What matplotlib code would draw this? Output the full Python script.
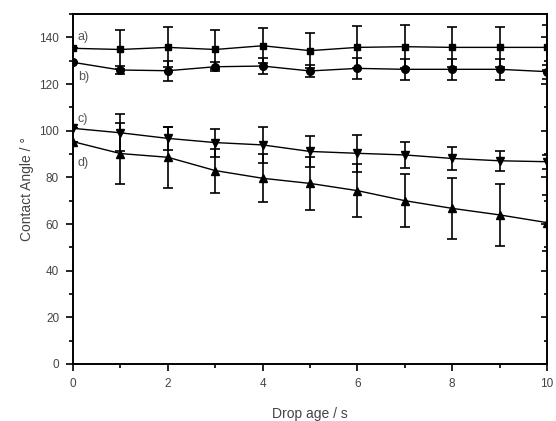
import numpy as np
import matplotlib
matplotlib.use("Agg")
import matplotlib.pyplot as plt
from matplotlib.ticker import MultipleLocator

plt.rcParams['font.family'] = ['Liberation Sans', 'DejaVu Sans']

# drop age in seconds
t = [0, 1, 2, 3, 4, 5, 6, 7, 8, 9, 10]

# a) squares
a_val = [135.3, 134.8, 135.7, 134.8, 136.4, 134.3, 135.7, 136.0, 135.7, 135.7, 135.7]
a_err = [0, 8.4, 8.6, 8.4, 7.5, 7.4, 9.0, 9.3, 8.6, 8.6, 9.5]
# b) circles
b_val = [129.3, 126.0, 125.7, 127.4, 127.7, 125.6, 126.7, 126.3, 126.3, 126.3, 125.3]
b_err = [0, 1.8, 4.3, 2.0, 3.4, 2.7, 4.5, 4.5, 4.5, 4.5, 3.0]
# c) down triangles
c_val = [101.0, 99.1, 96.7, 94.9, 93.9, 91.1, 90.3, 89.6, 88.1, 87.1, 86.7]
c_err = [0, 8.0, 5.0, 6.0, 7.8, 6.5, 8.0, 5.7, 5.0, 4.2, 3.0]
# d) up triangles
d_val = [95.3, 90.2, 88.6, 82.9, 79.6, 77.4, 74.3, 70.0, 66.7, 63.9, 60.6]
d_err = [0, 12.9, 13.0, 9.4, 10.3, 11.4, 11.4, 11.4, 13.0, 13.4, 12.0]

series = [(a_val, a_err, 's', 5), (b_val, b_err, 'o', 5.5), (c_val, c_err, 'v', 6), (d_val, d_err, '^', 6)]
labels = ['a)', 'b)', 'c)', 'd)']
label_y = [140, 123, 105, 86]

fig = plt.figure(figsize=(5.56, 4.21), dpi=100)
ax = fig.add_axes([0.1313, 0.1354, 0.8525, 0.8313])

for vals, errs, m, ms in series:
    ax.errorbar(t, vals, yerr=errs, color='black', marker=m, markersize=ms,
                linewidth=1.0, elinewidth=1.2, capsize=3.5, capthick=1.2,
                zorder=3)

for lab, y in zip(labels, label_y):
    ax.text(0.1, y, lab, color='#555555', fontsize=9, va='center', ha='left')

ax.set_xlim(0, 10)
ax.set_ylim(0, 150)
ax.xaxis.set_major_locator(MultipleLocator(2))
ax.xaxis.set_minor_locator(MultipleLocator(1))
ax.yaxis.set_major_locator(MultipleLocator(20))
ax.yaxis.set_minor_locator(MultipleLocator(10))
ax.tick_params(which='major', direction='out', length=5, width=1.2, pad=5,
               labelsize=8.5, labelcolor='#444444')
ax.tick_params(which='minor', direction='out', length=3, width=1.2)

# right side ticks point inward, no labels
ax2 = ax.twinx()
ax2.set_ylim(0, 150)
ax2.yaxis.set_major_locator(MultipleLocator(20))
ax2.yaxis.set_minor_locator(MultipleLocator(10))
ax2.tick_params(which='both', direction='in', labelright=False, width=1.2)
ax2.tick_params(which='major', length=4)
ax2.tick_params(which='minor', length=2.5)

for a in (ax, ax2):
    for s in a.spines.values():
        s.set_linewidth(1.2)

ax.set_ylabel('Contact Angle / °', fontsize=10, color='#444444', labelpad=4)
ax.set_xlabel('Drop age / s', fontsize=10, color='#444444', labelpad=12)

fig.savefig('out.png', dpi=100)
